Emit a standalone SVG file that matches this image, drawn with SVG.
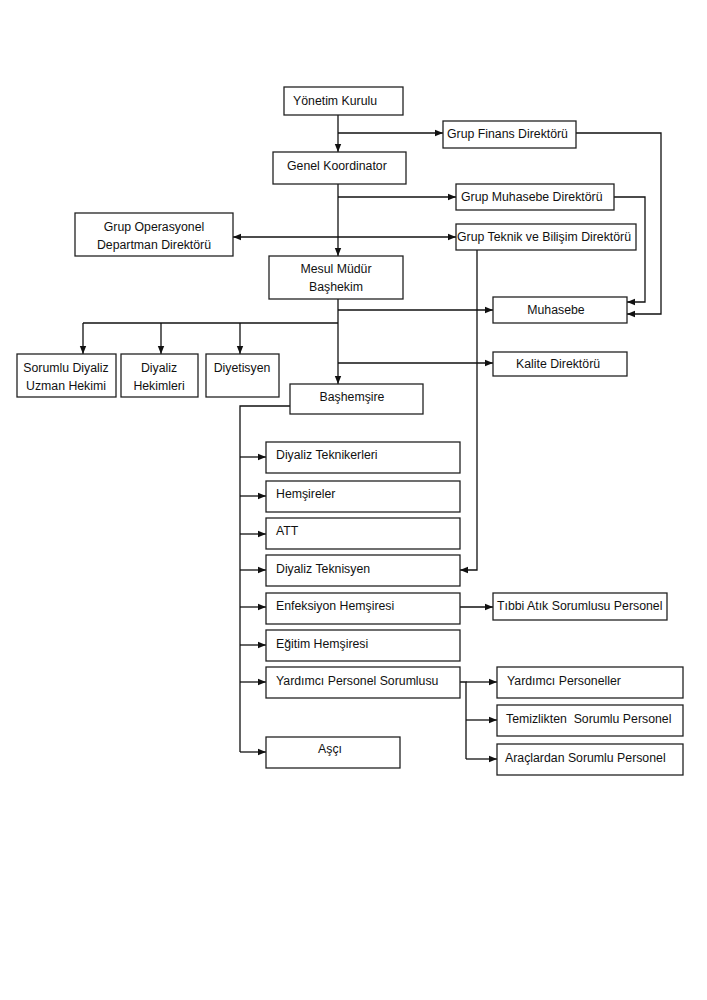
<svg xmlns="http://www.w3.org/2000/svg" width="707" height="1000" viewBox="0 0 707 1000">
<style>
.b{fill:#fff;stroke:#222;stroke-width:1.3}
.t{font-family:"Liberation Sans",Arial,sans-serif;font-size:12.3px;fill:#111}
.c{text-anchor:middle}
.l{fill:none;stroke:#111;stroke-width:1.3}
.a{marker-end:url(#ah)}
</style>
<defs>
<marker id="ah" markerUnits="userSpaceOnUse" markerWidth="8" markerHeight="8" refX="8" refY="4" orient="auto-start-reverse">
<path d="M0,0.8 L8,4 L0,7.2 z" fill="#111"/>
</marker>
</defs>
<rect width="707" height="1000" fill="#fff"/>
<g id="connectors">
<path class="l a" d="M338,115 V152"/>
<path class="l a" d="M338,133 H443"/>
<path class="l a" d="M338,184 V256"/>
<path class="l a" d="M338,197 H456"/>
<path class="l a" d="M233,237 H456" marker-start="url(#ah)"/>
<path class="l a" d="M576,133 H661 V314 H627"/>
<path class="l a" d="M614,197 H645 V302 H627"/>
<path class="l a" d="M338,299 V384"/>
<path class="l a" d="M338,310 H493"/>
<path class="l" d="M338,323 H83"/>
<path class="l a" d="M83,323 V354"/>
<path class="l a" d="M161,323 V354"/>
<path class="l a" d="M240,323 V354"/>
<path class="l a" d="M338,363 H493"/>
<path class="l a" d="M477,250 V570 H460"/>
<path class="l" d="M290,406 H240 V752"/>
<path class="l a" d="M240,457 H266"/>
<path class="l a" d="M240,496 H266"/>
<path class="l a" d="M240,534 H266"/>
<path class="l a" d="M240,570 H266"/>
<path class="l a" d="M240,607 H266"/>
<path class="l a" d="M240,645 H266"/>
<path class="l a" d="M240,682 H266"/>
<path class="l a" d="M240,752 H266"/>
<path class="l a" d="M460,607 H493"/>
<path class="l" d="M460,682 H466 V759"/>
<path class="l a" d="M466,682 H497"/>
<path class="l a" d="M466,720 H497"/>
<path class="l a" d="M466,759 H497"/>
</g>
<g id="yonetim"><rect class="b" x="284" y="87" width="119" height="28"/><text class="t" x="293" y="105">Yönetim Kurulu</text></g>
<g id="finans"><rect class="b" x="443" y="121" width="133" height="27"/><text class="t" x="447" y="138">Grup Finans Direktörü</text></g>
<g id="genel"><rect class="b" x="273" y="152" width="133" height="32"/><text class="t" x="287" y="170">Genel Koordinator</text></g>
<g id="muhdir"><rect class="b" x="456" y="184" width="158" height="26"/><text class="t" x="461" y="201">Grup Muhasebe Direktörü</text></g>
<g id="teknik"><rect class="b" x="456" y="224" width="180" height="26"/><text class="t" x="457" y="241">Grup Teknik ve Bilişim Direktörü</text></g>
<g id="operasyonel"><rect class="b" x="75" y="213" width="158" height="43"/><text class="t c" x="154" y="231">Grup Operasyonel</text><text class="t c" x="154" y="249">Departman Direktörü</text></g>
<g id="mesul"><rect class="b" x="269" y="256" width="134" height="43"/><text class="t c" x="336" y="273">Mesul Müdür</text><text class="t c" x="336" y="291">Başhekim</text></g>
<g id="muhasebe"><rect class="b" x="493" y="297" width="134" height="26"/><text class="t c" x="556" y="314">Muhasebe</text></g>
<g id="kalite"><rect class="b" x="493" y="352" width="134" height="24"/><text class="t" x="516" y="368">Kalite Direktörü</text></g>
<g id="sorumlu"><rect class="b" x="17" y="354" width="99" height="43"/><text class="t c" x="66" y="372">Sorumlu Diyaliz</text><text class="t c" x="66" y="390">Uzman Hekimi</text></g>
<g id="hekimler"><rect class="b" x="121" y="354" width="77" height="43"/><text class="t c" x="159" y="372">Diyaliz</text><text class="t c" x="159" y="390">Hekimleri</text></g>
<g id="diyetisyen"><rect class="b" x="206" y="354" width="73" height="43"/><text class="t c" x="242" y="372">Diyetisyen</text></g>
<g id="bashemsire"><rect class="b" x="290" y="384" width="133" height="30"/><text class="t c" x="352" y="401">Başhemşire</text></g>
<g id="teknikerler"><rect class="b" x="266" y="442" width="194" height="31"/><text class="t" x="276" y="459">Diyaliz Teknikerleri</text></g>
<g id="hemsireler"><rect class="b" x="266" y="481" width="194" height="31"/><text class="t" x="276" y="498">Hemşireler</text></g>
<g id="att"><rect class="b" x="266" y="518" width="194" height="31"/><text class="t" x="276" y="535">ATT</text></g>
<g id="teknisyen"><rect class="b" x="266" y="555" width="194" height="31"/><text class="t" x="276" y="573">Diyaliz Teknisyen</text></g>
<g id="enfeksiyon"><rect class="b" x="266" y="593" width="194" height="31"/><text class="t" x="276" y="610">Enfeksiyon Hemşiresi</text></g>
<g id="tibbi"><rect class="b" x="493" y="593" width="174" height="27"/><text class="t" x="497" y="610">Tıbbi Atık Sorumlusu Personel</text></g>
<g id="egitim"><rect class="b" x="266" y="630" width="194" height="31"/><text class="t" x="276" y="648">Eğitim Hemşiresi</text></g>
<g id="yps"><rect class="b" x="266" y="667" width="194" height="31"/><text class="t" x="276" y="685">Yardımcı Personel Sorumlusu</text></g>
<g id="yp"><rect class="b" x="497" y="667" width="186" height="31"/><text class="t" x="507" y="685">Yardımcı Personeller</text></g>
<g id="temizlik"><rect class="b" x="497" y="705" width="186" height="31"/><text class="t" x="506" y="723" style="white-space:pre">Temizlikten  Sorumlu Personel</text></g>
<g id="araclar"><rect class="b" x="497" y="744" width="186" height="31"/><text class="t" x="505" y="762">Araçlardan Sorumlu Personel</text></g>
<g id="asci"><rect class="b" x="266" y="737" width="134" height="31"/><text class="t c" x="330" y="753">Aşçı</text></g>
</svg>
